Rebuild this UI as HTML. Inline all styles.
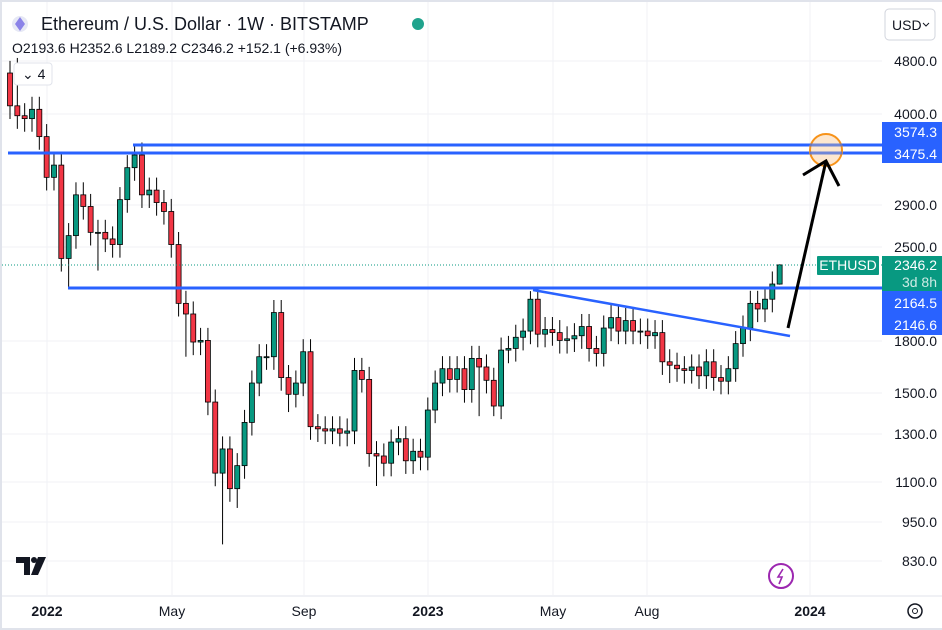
<!DOCTYPE html><html><head><meta charset="utf-8"><style>
body{margin:0;background:#e0e3eb;}
#w{position:absolute;left:0;top:0;width:942px;height:630px;overflow:hidden;background:#e0e3eb}
#c{position:absolute;left:2px;top:2px;width:940px;height:626px;background:#fff}
text{font-family:"Liberation Sans",sans-serif}
</style></head><body><div id="w"><div id="c"></div>
<svg id="s" width="942" height="630" style="position:absolute;left:0;top:0"></svg></div>
<script>
const Y=p=>61+(8.476-Math.log(p))*285;
const X=i=>10+i*7.33;
const cl=[4600,4100,3960,3920,4050,3680,3190,3330,2400,2600,3000,2880,2630,2630,2570,2520,2950,3300,3450,3000,3050,2920,2830,2520,2050,1975,1790,1800,1450,1130,1230,1070,1160,1350,1550,1700,1700,1985,1580,1490,1550,1730,1330,1320,1310,1320,1300,1310,1620,1570,1210,1200,1170,1260,1275,1180,1220,1195,1410,1550,1630,1570,1630,1515,1690,1640,1565,1430,1740,1750,1820,1860,2080,1840,1870,1850,1800,1810,1830,1890,1750,1720,1880,1950,1860,1930,1860,1860,1830,1850,1670,1650,1630,1620,1640,1590,1670,1580,1560,1630,1780,1880,2050,2010,2080,2194,2346];
const lowOv={8:2160,12:2300,24:1700,29:880,31:1000,38:1400,50:1080,64:1380,66:1380,90:1550};
const hiOv={1:4850,17:3580,71:2140,0:4800};
let h='';
[61,114,205,247,341,393,434,482,522,561].forEach(y=>h+=`<line x1="2" x2="882" y1="${y}" y2="${y}" stroke="#f0f2f5"/>`);
[47,172,304,428,553,647,810].forEach(x=>h+=`<line x1="${x}" x2="${x}" y1="2" y2="595" stroke="#f0f2f5"/>`);
h+=`<line x1="2" x2="942" y1="596" y2="596" stroke="#e0e3eb"/>`;
for(let i=1;i<cl.length;i++){let o=cl[i-1],c=cl[i];if(i==cl.length-1)o=2193.6;
let up=c>=o,col=up?'#089981':'#f23645',x=X(i-1);
let hi=Math.max(o,c)*1.045,lo=Math.min(o,c)*0.955;
if(lowOv[i-1])lo=lowOv[i-1]; if(hiOv[i-1])hi=hiOv[i-1];
if(i==cl.length-1){hi=2352.6;lo=2189.2;}
let y1=Y(Math.max(o,c)),y2=Y(Math.min(o,c));
h+=`<line x1="${x}" x2="${x}" y1="${Y(hi)}" y2="${Y(lo)}" stroke="#000" stroke-width="1"/>`;
h+=`<rect x="${x-2.5}" y="${y1}" width="5" height="${Math.max(1,y2-y1)}" fill="${col}" stroke="#000" stroke-width="0.8"/>`;}
h+=`<line x1="2" x2="882" y1="265" y2="265" stroke="#089981" stroke-dasharray="1,2"/>`;
const B='#2962ff';
h+=`<line x1="133" x2="882" y1="145" y2="145" stroke="${B}" stroke-width="3"/>`;
h+=`<line x1="8" x2="882" y1="153" y2="153" stroke="${B}" stroke-width="3"/>`;
h+=`<line x1="68" x2="882" y1="288" y2="288" stroke="${B}" stroke-width="3"/>`;
h+=`<line x1="533" x2="790" y1="290" y2="336" stroke="${B}" stroke-width="2.5"/>`;
h+=`<circle cx="826" cy="150" r="16" fill="#fde7cf" stroke="#f7931a" stroke-width="2"/>`;
h+=`<line x1="810" x2="842" y1="145" y2="145" stroke="#4e6fd8" stroke-width="3" opacity=".8"/><line x1="810" x2="842" y1="153" y2="153" stroke="#4e6fd8" stroke-width="3" opacity=".8"/>`;
h+=`<polyline points="788,328 826,161" stroke="#000" stroke-width="3" fill="none"/><polyline points="803,175 826,161 839,186" stroke="#000" stroke-width="3" fill="none"/>`;
[[4800,61],[4000,114],[2900,205],[2500,247],[1800,341],[1500,393],[1300,434],[1100,482],[950,522],[830,561]].forEach(([p,y])=>h+=`<text x="937" y="${y+5}" text-anchor="end" font-size="14" fill="#131722">${p.toFixed(1)}</text>`);
h+=`<rect x="882" y="122" width="60" height="41" fill="${B}"/><text x="937" y="137" text-anchor="end" font-size="14" fill="#fff">3574.3</text><text x="937" y="159" text-anchor="end" font-size="14" fill="#fff">3475.4</text>`;
h+=`<rect x="817" y="256" width="62" height="19" fill="#089981" rx="1"/><text x="848" y="270" text-anchor="middle" font-size="14" fill="#fff">ETHUSD</text>`;
h+=`<rect x="882" y="256" width="60" height="35" fill="#089981"/><text x="937" y="270" text-anchor="end" font-size="14" fill="#fff">2346.2</text><text x="937" y="287" text-anchor="end" font-size="14" fill="#cdebe5">3d 8h</text>`;
h+=`<rect x="882" y="291" width="60" height="44" fill="${B}"/><text x="937" y="308" text-anchor="end" font-size="14" fill="#fff">2164.5</text><text x="937" y="330" text-anchor="end" font-size="14" fill="#fff">2146.6</text>`;
[['2022',47,1],['May',172],['Sep',304],['2023',428,1],['May',553],['Aug',647],['2024',810,1]].forEach(([t,x,b])=>h+=`<text x="${x}" y="616" text-anchor="middle" font-size="14" fill="#131722" ${b?'font-weight="bold"':''}>${t}</text>`);
h+=`<circle cx="20" cy="24" r="8" fill="#e6e8f5"/><polygon points="20,17 25,24 20,31 15,24" fill="#8a82e8"/>`;
h+=`<text x="41" y="30" font-size="18" fill="#131722">Ethereum / U.S. Dollar · 1W · BITSTAMP</text><circle cx="418" cy="24" r="6" fill="#089981" opacity=".9"/>`;
h+=`<text x="12" y="53" font-size="14" fill="#131722">O2193.6 H2352.6 L2189.2 C2346.2 +152.1 (+6.93%)</text>`;
h+=`<rect x="14" y="63" width="38" height="22" rx="3" fill="#fff" stroke="#e0e3eb"/><text x="22" y="79" font-size="14" fill="#131722">⌄ 4</text>`;
h+=`<rect x="885" y="9" width="50" height="31" rx="4" fill="#fff" stroke="#d1d4dc"/><text x="892" y="30" font-size="14" fill="#131722">USD</text><path d="M923,23 l3,3 l3,-3" fill="none" stroke="#131722"/>`;
h+=`<polygon points="16,557 30,557 30,575 24,575 24,563 16,563" fill="#131722"/><circle cx="34" cy="560" r="3" fill="#131722"/><polygon points="38,557 46,557 38,575 31,575" fill="#131722"/>`;
h+=`<circle cx="781" cy="576" r="12" fill="#fff" stroke="#9c27b0" stroke-width="2"/><path d="M783,569 L778,577 L782,577 L779,584" fill="none" stroke="#9c27b0" stroke-width="1.6"/>`;
h+=`<circle cx="915" cy="611" r="7" fill="none" stroke="#131722" stroke-width="1.5"/><circle cx="915" cy="611" r="2.5" fill="none" stroke="#131722"/>`;
document.getElementById('s').innerHTML=h;
</script></body></html>
